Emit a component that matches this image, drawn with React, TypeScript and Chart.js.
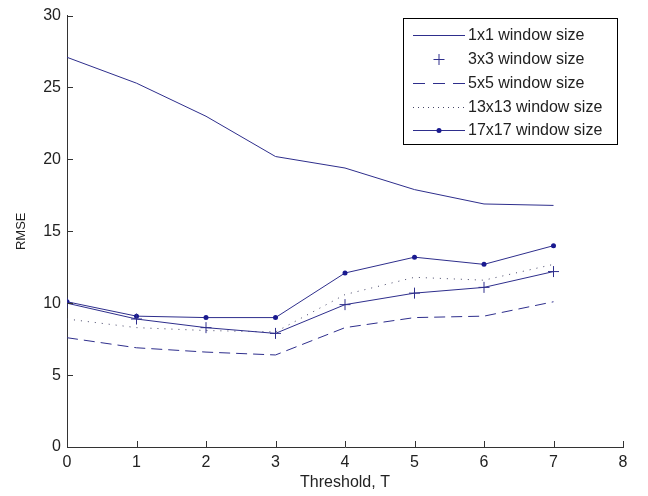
import React, { useEffect, useRef } from "react";
import { Chart, registerables } from "chart.js";

Chart.register(...registerables);

const THRESHOLDS = [0, 1, 2, 3, 4, 5, 6, 7];
const W1 = [27.1, 25.3, 23.0, 20.2, 19.4, 17.9, 16.9, 16.8];
const W3 = [10.0, 8.9, 8.3, 7.9, 9.9, 10.7, 11.1, 12.2];
const W5 = [7.6, 6.9, 6.6, 6.4, 8.3, 9.0, 9.1, 10.1];
const W13 = [8.9, 8.3, 8.1, 8.0, 10.6, 11.8, 11.6, 12.7];
const W17 = [10.1, 9.1, 9.0, 9.0, 12.1, 13.2, 12.7, 14.0];
const NAMES = [
  "1x1 window size",
  "3x3 window size",
  "5x5 window size",
  "13x13 window size",
  "17x17 window size",
];
const X_TICKS = [0, 1, 2, 3, 4, 5, 6, 7, 8];
const Y_TICKS = [0, 5, 10, 15, 20, 25, 30];

const FONT = '"Liberation Sans", Arial, sans-serif';
const LINE = "#2e2e8c";

const pts = (vals: number[]) => vals.map((v, i) => ({ x: THRESHOLDS[i], y: v }));

const matlabPlugin = {
  id: "matlabAxes",
  afterDraw(chart: any) {
    const ctx = chart.ctx as CanvasRenderingContext2D;
    const xs = chart.scales.x;
    const ys = chart.scales.y;
    const area = chart.chartArea;
    ctx.save();
    ctx.strokeStyle = "#333";
    ctx.lineWidth = 1;
    ctx.beginPath();
    X_TICKS.forEach((t) => {
      const px = Math.round(xs.getPixelForValue(t)) + 0.5;
      ctx.moveTo(px, area.bottom);
      ctx.lineTo(px, area.bottom - 6);
    });
    Y_TICKS.forEach((t) => {
      const py = Math.round(ys.getPixelForValue(t)) + 0.5;
      ctx.moveTo(area.left, py);
      ctx.lineTo(area.left + 6, py);
    });
    ctx.stroke();

    // legend
    const bx = 403.5, by = 18.5, bw = 214, bh = 126;
    ctx.fillStyle = "#fff";
    ctx.fillRect(bx, by, bw, bh);
    ctx.strokeStyle = "#000";
    ctx.strokeRect(bx, by, bw, bh);
    const x0 = 413, x1 = 465, xm = (x0 + x1) / 2;
    const rowY = [35, 58.5, 82.5, 106.5, 130];
    ctx.font = "16px " + FONT;
    ctx.textBaseline = "middle";
    ctx.textAlign = "left";
    NAMES.forEach((name, i) => {
      const y = Math.round(rowY[i]) + 0.5;
      ctx.strokeStyle = LINE;
      ctx.lineWidth = 1;
      ctx.beginPath();
      if (i === 0) {
        ctx.setLineDash([]);
        ctx.moveTo(x0, y); ctx.lineTo(x1, y);
      } else if (i === 1) {
        ctx.setLineDash([]);
        ctx.moveTo(xm - 5.5, y); ctx.lineTo(xm + 5.5, y);
        ctx.moveTo(xm, y - 5.5); ctx.lineTo(xm, y + 5.5);
      } else if (i === 2) {
        ctx.setLineDash([12, 8]);
        ctx.moveTo(x0, y); ctx.lineTo(x1, y);
      } else if (i === 3) {
        ctx.strokeStyle = "#444466";
        ctx.setLineDash([1, 4]);
        ctx.moveTo(x0, y); ctx.lineTo(x1, y);
      } else {
        ctx.setLineDash([]);
        ctx.moveTo(x0, y); ctx.lineTo(x1, y);
      }
      ctx.stroke();
      ctx.setLineDash([]);
      if (i === 4) {
        ctx.fillStyle = "#1a1a90";
        ctx.beginPath();
        ctx.arc(xm, y, 2.5, 0, Math.PI * 2);
        ctx.fill();
      }
      ctx.fillStyle = "#222";
      ctx.fillText(name, 468, y);
    });
    ctx.restore();
  },
};

export default function App() {
  const ref = useRef<HTMLCanvasElement | null>(null);
  useEffect(() => {
    document.body.style.margin = "0";
    if (!ref.current) return;
    const chart = new Chart(ref.current, {
      type: "line",
      data: {
        datasets: [
          {
            label: NAMES[0],
            data: pts(W1),
            borderColor: LINE,
            borderWidth: 1,
            pointRadius: 0,
          },
          {
            label: NAMES[1],
            data: pts(W3),
            borderColor: LINE,
            borderWidth: 1,
            pointStyle: "cross",
            pointRadius: 5.5,
            pointBorderColor: LINE,
            pointBorderWidth: 1,
          },
          {
            label: NAMES[2],
            data: pts(W5),
            borderColor: LINE,
            borderWidth: 1,
            borderDash: [11, 6],
            pointRadius: 0,
          },
          {
            label: NAMES[3],
            data: pts(W13),
            borderColor: "#444466",
            borderWidth: 1,
            borderDash: [1, 6],
            pointRadius: 0,
          },
          {
            label: NAMES[4],
            data: pts(W17),
            borderColor: LINE,
            borderWidth: 1,
            pointStyle: "circle",
            pointRadius: 2.5,
            pointBackgroundColor: "#1a1a90",
            pointBorderColor: "#1a1a90",
            pointBorderWidth: 0,
          },
        ],
      },
      options: {
        animation: false,
        responsive: false,
        events: [],
        layout: { padding: { left: 0, right: 25, top: 10, bottom: 0 } },
        plugins: { legend: { display: false }, tooltip: { enabled: false } },
        scales: {
          x: {
            type: "linear",
            min: 0,
            max: 8,
            afterFit: (s: any) => {
              s.height = 49;
            },
            ticks: {
              stepSize: 1,
              padding: 6,
              color: "#222",
              font: { family: FONT, size: 16 },
            },
            grid: { display: false, drawTicks: false },
            border: { display: true, color: "#333", width: 1 },
            title: {
              display: true,
              text: "Threshold, T",
              color: "#222",
              font: { family: FONT, size: 16 },
              padding: { top: 0, bottom: 4 },
            },
          },
          y: {
            type: "linear",
            min: 0,
            max: 30,
            afterFit: (s: any) => {
              s.width = 67;
            },
            ticks: {
              stepSize: 5,
              padding: 6,
              color: "#222",
              font: { family: FONT, size: 16 },
            },
            grid: { display: false, drawTicks: false },
            border: { display: true, color: "#333", width: 1 },
            title: {
              display: true,
              text: "RMSE",
              color: "#222",
              font: { family: FONT, size: 13 },
              padding: { top: 14, bottom: 0 },
            },
          },
        },
      },
      plugins: [matlabPlugin],
    } as any);
    return () => chart.destroy();
  }, []);
  return (
    <div style={{ width: 648, height: 496 }}>
      <canvas ref={ref} width={648} height={496} />
    </div>
  );
}
